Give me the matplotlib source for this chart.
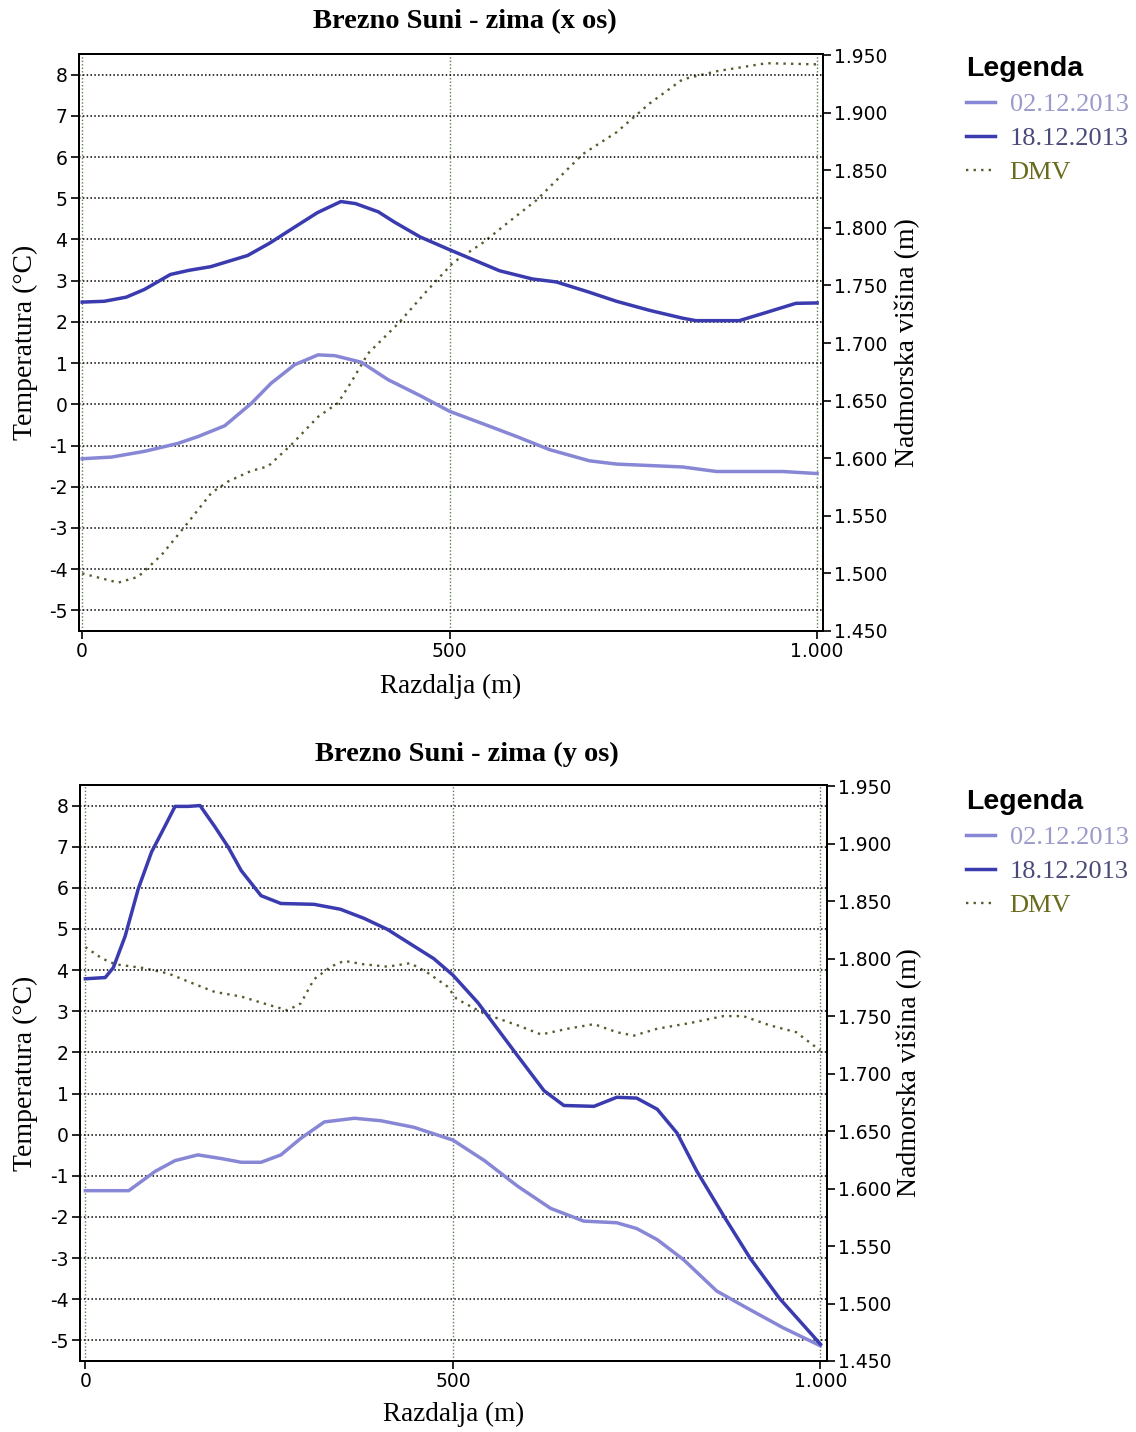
import numpy as np
import matplotlib
matplotlib.use("Agg")
import matplotlib.pyplot as plt
from matplotlib.ticker import FixedLocator, FuncFormatter

plt.rcParams["axes.unicode_minus"] = False

# ---- data: gornji graf (x os) ----
x_dark_dist = [0, 30, 60, 85, 120, 145, 175, 225, 255, 290, 320, 352, 372, 403, 425, 460, 500,
               568, 613, 645, 690, 727, 772, 817, 835, 894, 931, 971, 1000]
x_dark_temp = [2.48, 2.5, 2.6, 2.79, 3.15, 3.25, 3.34, 3.61, 3.91, 4.31, 4.65, 4.92, 4.87, 4.67, 4.42,
               4.06, 3.75, 3.24, 3.04, 2.97, 2.72, 2.5, 2.28, 2.09, 2.03, 2.03, 2.23, 2.45, 2.46]

x_light_dist = [0, 40, 85, 130, 158, 194, 230, 257, 289, 321, 344, 380, 416, 461, 500, 545, 591,
                636, 690, 727, 817, 863, 953, 1000]
x_light_temp = [-1.32, -1.28, -1.14, -0.95, -0.78, -0.52, 0.02, 0.51, 0.96, 1.2, 1.18, 1.02, 0.6,
                0.2, -0.17, -0.47, -0.78, -1.1, -1.37, -1.45, -1.52, -1.63, -1.63, -1.68]

x_dmv_dist = [0, 49, 76, 108, 140, 176, 199, 230, 253, 285, 321, 348, 366, 389, 430, 470, 505, 545,
              582, 618, 681, 727, 772, 817, 863, 931, 1000]
x_dmv_elev = [1500, 1492, 1497, 1516, 1541, 1570, 1580, 1589, 1593, 1612, 1636, 1648, 1666, 1691,
              1717, 1746, 1770, 1787, 1806, 1824, 1864, 1883, 1908, 1929, 1936, 1943, 1942]

# ---- data: spodnji graf (y os) ----
y_dark_dist = [0, 27, 38, 54, 72, 90, 108, 122, 140, 156, 176, 194, 212, 239, 266, 311, 347, 379,
               411, 442, 474, 500, 534, 588, 624, 651, 692, 723, 750, 778, 805, 832, 868, 904, 944, 1000]
y_dark_temp = [3.79, 3.82, 4.06, 4.82, 5.98, 6.87, 7.49, 7.98, 7.98, 8.0, 7.49, 7.0, 6.42, 5.81,
               5.62, 5.6, 5.48, 5.26, 4.99, 4.64, 4.28, 3.88, 3.21, 1.92, 1.07, 0.71, 0.69, 0.91,
               0.89, 0.62, 0.04, -0.89, -1.96, -2.99, -3.97, -5.09]

y_light_dist = [0, 59, 95, 122, 153, 185, 212, 239, 266, 293, 325, 366, 402, 447, 500, 543, 588,
                633, 678, 723, 750, 778, 814, 859, 904, 949, 1000]
y_light_temp = [-1.36, -1.36, -0.89, -0.63, -0.49, -0.58, -0.67, -0.67, -0.49, -0.09, 0.31, 0.4,
                0.34, 0.18, -0.13, -0.63, -1.25, -1.79, -2.1, -2.14, -2.28, -2.55, -3.04, -3.8,
                -4.25, -4.69, -5.13]

y_dmv_dist = [0, 23, 41, 77, 113, 144, 176, 212, 248, 275, 293, 311, 334, 352, 379, 411, 442, 465,
              492, 505, 543, 588, 620, 656, 692, 723, 746, 778, 823, 868, 895, 931, 967, 1000]
y_dmv_elev = [1810, 1800, 1795, 1792, 1787, 1779, 1771, 1767, 1760, 1755, 1761, 1782, 1793, 1798,
              1795, 1793, 1796, 1788, 1776, 1765, 1752, 1742, 1734, 1739, 1743, 1736, 1733, 1739,
              1744, 1750, 1750, 1742, 1736, 1720]

series_labels = ["02.12.2013", "18.12.2013", "DMV"]
temp_ticks = list(range(-5, 9))
elev_ticks = list(range(1450, 1951, 50))
dist_ticks = [0, 500, 1000]

LIGHT = "#8787d6"
DARK = "#3b3bb0"
DMV_C = "#5a5a2e"
LEG_TXT = ["#9a9acb", "#4a4a78", "#6b6b1e"]

W, H = 1136, 1432
SERIF = "Liberation Serif"
SANS = "DejaVu Sans"

fig = plt.figure(figsize=(W / 100, H / 100), dpi=100)
fig.patch.set_facecolor("white")


def rect(l, t, r, b):
    return [l / W, 1 - b / H, (r - l) / W, (b - t) / H]


def fmt_thousand(v, pos):
    v = int(round(v))
    if v >= 1000:
        return f"{v // 1000}.{v % 1000:03d}"
    return str(v)


def make_chart(box, xlim, title, title_xy, ylab_x, ylab2_x, xlab_y, leg_top,
               dark, light, dmv):
    ax = fig.add_axes(rect(*box))
    ax2 = ax.twinx()
    ax.set_zorder(ax2.get_zorder() + 1)
    ax.patch.set_visible(False)

    ax.set_xlim(*xlim)
    ax.set_ylim(-5.5, 8.5)
    ax2.set_ylim(1450, 1951)

    ax.yaxis.set_major_locator(FixedLocator(temp_ticks))
    ax.xaxis.set_major_locator(FixedLocator(dist_ticks))
    ax.xaxis.set_major_formatter(FuncFormatter(fmt_thousand))
    ax2.yaxis.set_major_locator(FixedLocator(elev_ticks))
    ax2.yaxis.set_major_formatter(FuncFormatter(fmt_thousand))

    ax.yaxis.grid(True, linestyle=(0, (1, 1.5)), color="black", lw=1.1)
    ax.xaxis.grid(True, linestyle=(0, (1, 1.5)), color="#5f7f55", lw=1.0)
    ax.set_axisbelow(True)

    for a in (ax, ax2):
        for s in a.spines.values():
            s.set_linewidth(1.4)
            s.set_color("black")
        a.tick_params(direction="out", length=6, width=1.2, labelsize=13.5,
                      colors="black", pad=2)
        for lab in a.get_xticklabels() + a.get_yticklabels():
            lab.set_family(SANS)

    l2, = ax2.plot(dmv[0], dmv[1], color=DMV_C, lw=1.7, linestyle=(0, (1, 2.2)))
    l0, = ax.plot(light[0], light[1], color=LIGHT, lw=2.5)
    l1, = ax.plot(dark[0], dark[1], color=DARK, lw=2.5)

    fig.text(title_xy[0] / W, 1 - title_xy[1] / H, title, family=SERIF,
             weight="bold", fontsize=20.5, ha="center", va="center")
    cy = 1 - (box[1] + box[3]) / 2 / H
    fig.text(ylab_x / W, cy, "Temperatura (°C)", family=SERIF, fontsize=20,
             rotation=90, ha="center", va="center")
    fig.text(ylab2_x / W, cy, "Nadmorska višina (m)", family=SERIF, fontsize=20,
             rotation=90, ha="center", va="center")
    cx = (box[0] + box[2]) / 2 / W
    fig.text(cx, 1 - xlab_y / H, "Razdalja (m)", family=SERIF, fontsize=19.5,
             ha="center", va="center")

    leg = ax.legend([l0, l1, l2], series_labels, loc="upper left",
                    bbox_to_anchor=(966 / W, 1 - leg_top / H),
                    bbox_transform=fig.transFigure, frameon=False,
                    prop={"family": SERIF, "size": 19}, title="Legenda",
                    title_fontproperties={"family": "Liberation Sans", "weight": "bold", "size": 20.5},
                    alignment="left", handlelength=1.1, handletextpad=0.55,
                    labelspacing=0.4, borderpad=0, borderaxespad=0)
    for t, c in zip(leg.get_texts(), LEG_TXT):
        t.set_color(c)
    return ax


make_chart((78.5, 54, 823, 631), (-5, 1008), "Brezno Suni - zima (x os)", (465, 22),
           25, 907, 686, 56,
           (x_dark_dist, x_dark_temp), (x_light_dist, x_light_temp), (x_dmv_dist, x_dmv_elev))
make_chart((79.5, 785, 827, 1361), (-8, 1009), "Brezno Suni - zima (y os)", (467, 754),
           25, 909, 1414, 789,
           (y_dark_dist, y_dark_temp), (y_light_dist, y_light_temp), (y_dmv_dist, y_dmv_elev))

fig.savefig("out.png", dpi=100, facecolor="white")
